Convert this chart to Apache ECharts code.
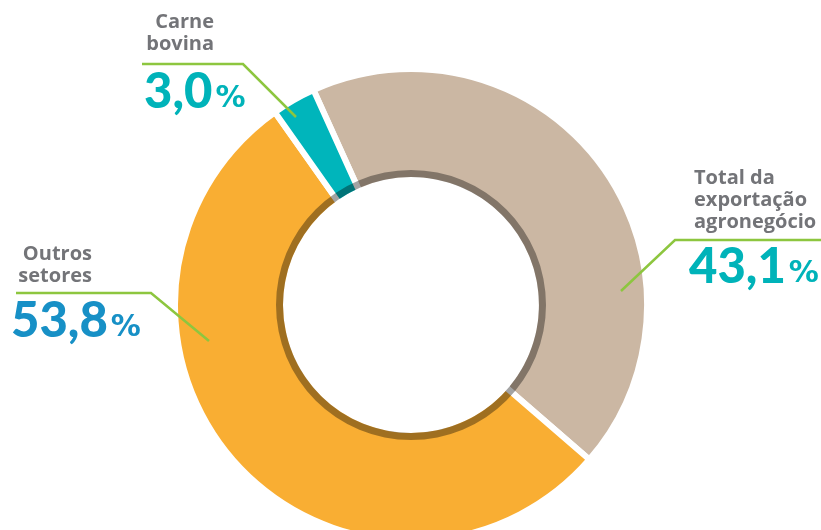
<!DOCTYPE html>
<html>
<head>
<meta charset="utf-8">
<script src="https://cdn.jsdelivr.net/npm/echarts@6/dist/echarts.min.js"></script>
<style>
html,body{margin:0;padding:0;background:#fff;}
#main{width:821px;height:530px;}
</style>
</head>
<body>
<div id="main"></div>
<script>
// dados
var categorias = ['Total da\nexportação\nagronegócio', 'Outros\nsetores', 'Carne\nbovina'];
var valores = [43.1, 53.8, 3.0];
var cores = ['#cbb7a3', '#f9ae33', '#00b5bb'];
var coresValor = ['#00b3b9', '#1790c6', '#00b3b9'];

var myChart = echarts.init(document.getElementById('main'));

function fmt(v){
    return v.toFixed(1).replace('.', ',');
}

var dados = [];
for (var i = 0; i < valores.length; i++) {
    dados.push({value: valores[i], name: categorias[i], itemStyle: {color: cores[i]}});
}

// posicao dos rotulos (x, y, align) e das linhas de chamada
var posValor = [
    {x: 689, y: 267, align: 'left', line: [[621,291],[675,240],[821,240]]},
    {x: 11, y: 321, align: 'left', line: [[209,341],[151,293],[16,293]]},
    {x: 144, y: 92, align: 'left', line: [[296,117],[243,64],[142,64]]}
];
var posNome = [
    {x: 694, y: 167, align: 'left'},
    {x: 92, y: 243, align: 'right'},
    {x: 214, y: 11, align: 'right'}
];

var valorRich = {};
for (var k = 0; k < coresValor.length; k++) {
    valorRich['v' + k] = {fontFamily: 'Lato', fontWeight: 900, fontSize: 49, color: coresValor[k], lineHeight: 50, verticalAlign: 'bottom'};
    valorRich['p' + k] = {fontFamily: 'DejaVu Sans', fontWeight: 'bold', fontSize: 30, color: coresValor[k], lineHeight: 50, verticalAlign: 'bottom', padding: [0,0,3,3]};
}

var linhas = posValor.map(function(p){
    return {
        type: 'polyline',
        z: 100,
        silent: true,
        shape: {points: p.line},
        style: {stroke: '#8dc63f', lineWidth: 2.5, fill: null}
    };
});

option = {
    animation: false,
    graphic: linhas,
    series: [
        {
            // fatias + nomes
            type: 'pie',
            center: [411, 305],
            radius: [125, 236],
            startAngle: 114.4,
            clockwise: true,
            avoidLabelOverlap: false,
            itemStyle: {borderColor: '#fff', borderWidth: 6},
            label: {
                show: true,
                position: 'outside',
                formatter: '{b}',
                fontFamily: 'Open Sans',
                fontWeight: 'bold',
                fontSize: 20,
                lineHeight: 22,
                color: '#737478'
            },
            labelLine: {show: false},
            labelLayout: function(params){
                var p = posNome[params.dataIndex];
                return {x: p.x, y: p.y, align: p.align, verticalAlign: 'top'};
            },
            emphasis: {disabled: true},
            data: dados
        },
        {
            // valores
            type: 'pie',
            center: [411, 305],
            radius: [125, 236],
            startAngle: 114.4,
            silent: true,
            avoidLabelOverlap: false,
            itemStyle: {color: 'rgba(0,0,0,0)'},
            label: {
                show: true,
                position: 'outside',
                formatter: function(p){
                    return '{v' + p.dataIndex + '|' + fmt(p.value) + '}{p' + p.dataIndex + '|%}';
                },
                rich: valorRich
            },
            labelLine: {show: false},
            labelLayout: function(params){
                var p = posValor[params.dataIndex];
                return {x: p.x, y: p.y, align: p.align, verticalAlign: 'middle'};
            },
            emphasis: {disabled: true},
            data: valores.map(function(v, i){ return {value: v, name: categorias[i]}; })
        },
        {
            // anel escuro interno
            type: 'pie',
            center: [411, 305],
            radius: [128, 135],
            silent: true,
            label: {show: false},
            labelLine: {show: false},
            itemStyle: {color: 'rgba(0,0,0,0.36)'},
            emphasis: {disabled: true},
            data: [1]
        }
    ]
};

myChart.setOption(option);
</script>
</body>
</html>
